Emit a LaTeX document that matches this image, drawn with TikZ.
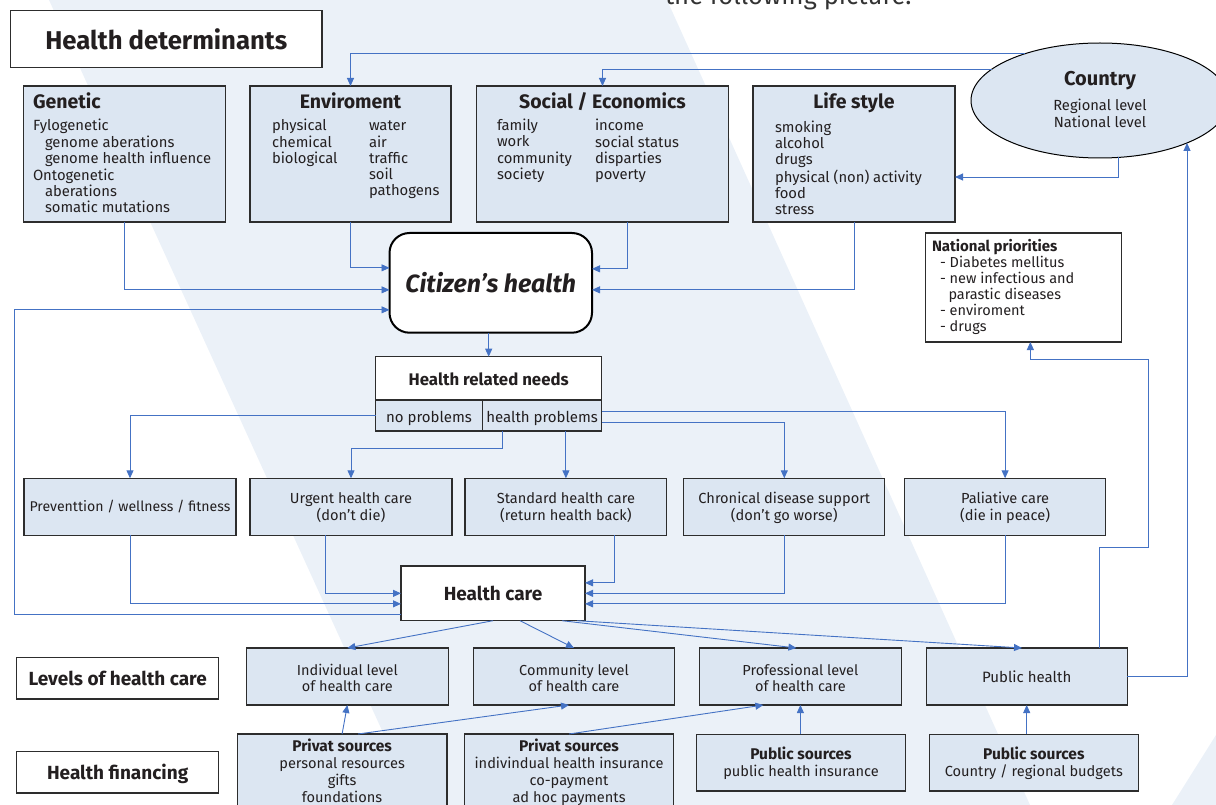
\documentclass[tikz,border=0pt]{standalone}
\usepackage{fontspec}
\setmainfont{Fira Sans}
\usetikzlibrary{arrows.meta,shapes.geometric,calc}
\definecolor{boxblue}{RGB}{220,230,242}
\definecolor{lineblue}{RGB}{68,114,196}
\definecolor{bordergray}{RGB}{45,45,45}
\definecolor{bgblue}{RGB}{235,241,248}
\definecolor{txt}{RGB}{35,31,32}
\newcommand{\llines}[1]{\begin{tabular}[t]{@{}l@{}}#1\end{tabular}}
\newcommand{\clines}[1]{\begin{tabular}[t]{@{}c@{}}#1\end{tabular}}
\newcommand{\myfs}[2]{\fontsize{#1}{#2}\selectfont}
\newcommand{\bsrc}[1]{{\bfseries\myfs{15.5}{17}#1}}
\begin{document}
\begin{tikzpicture}[x=1pt,y=-1pt,
  bluebox/.style={draw=bordergray,line width=1.1pt,fill=boxblue,inner sep=0pt,outer sep=0pt},
  whitebox/.style={draw=bordergray,line width=1.1pt,fill=white,inner sep=0pt,outer sep=0pt},
  lbl/.style={inner sep=0pt,outer sep=0pt,text=txt},
  body/.style={lbl,font=\myfs{14.8}{16}},
  title/.style={lbl,font=\bfseries\myfs{19.5}{20}},
  two/.style={lbl,font=\myfs{14.6}{17}},
  lvtxt/.style={lbl,font=\myfs{14.5}{16.7}},
  side/.style={lbl,font=\bfseries\myfs{19}{20}},
  arr/.style={draw=lineblue,line width=0.9pt,-{Triangle[length=8pt,width=7pt]}},
]
\useasboundingbox (0,0) rectangle (1216,805);
% background band
\fill[bgblue] (49,0) -- (667,0) -- (1030,805) -- (416,805) -- cycle;
\fill[bgblue] (1172,805) -- (1216,735) -- (1216,805) -- cycle;
\node[lbl,anchor=base west,font=\myfs{25.6}{28},text=black!80] (toptext) at (665,5) {the following picture.};

% header
\node[whitebox,minimum width=311.3,minimum height=57.3] (hd) at (166.3,39.3) {};
\node[lbl,anchor=base,font=\bfseries\myfs{25.7}{28}] (hdt) at (166.3,50) {Health determinants};

% determinants
\node[bluebox,minimum width=201.7,minimum height=136] (gen) at (124.2,154) {};
\node[title,anchor=base west] (gent) at (33,109) {Genetic};
\node[body,anchor=base west] (genb) at (33,131) {\llines{Fylogenetic\\\hspace*{12pt}genome aberations\\\hspace*{12pt}genome health influence\\Ontogenetic\\\hspace*{12pt}aberations\\\hspace*{12pt}somatic mutations}};

\node[bluebox,minimum width=201,minimum height=136] (env) at (350.5,154) {};
\node[title,anchor=base] (envt) at (350.5,109) {Enviroment};
\node[body,anchor=base west] (envl) at (272,131) {\llines{physical\\chemical\\biological}};
\node[body,anchor=base west] (envr) at (369,131) {\llines{water\\air\\traffic\\soil\\pathogens}};

\node[bluebox,minimum width=251.6,minimum height=136] (soc) at (602.5,154) {};
\node[title,anchor=base] (soct) at (602.5,109) {Social / Economics};
\node[body,anchor=base west] (socl) at (497,131) {\llines{family\\work\\community\\society}};
\node[body,anchor=base west] (socr) at (595,131) {\llines{income\\social status\\disparties\\poverty}};

\node[bluebox,minimum width=202,minimum height=136] (life) at (854,154) {};
\node[title,anchor=base] (lifet) at (854,109) {Life style};
\node[body,anchor=base west] (lifeb) at (775,133) {\llines{smoking\\alcohol\\drugs\\physical (non) activity\\food\\stress}};

\node[ellipse,draw=black,line width=1pt,fill=boxblue,minimum width=258,minimum height=115,inner sep=0pt,outer sep=0pt] (country) at (1100,100.5) {};
\node[lbl,anchor=base,font=\bfseries\myfs{20}{22}] (countryt) at (1100,86) {Country};
\node[lbl,anchor=base,font=\myfs{14.7}{16.5}] (countryb) at (1100,111) {\clines{Regional level\\National level}};

% citizen's health
\node[draw=black,line width=2pt,rounded corners=20pt,fill=white,minimum width=202.5,minimum height=99.7,inner sep=0pt,outer sep=0pt] (cit) at (490.75,282.85) {};
\node[lbl,anchor=base,font=\bfseries\itshape\myfs{24.9}{27}] (citt) at (490.75,292) {Citizen’s health};

% national priorities
\node[whitebox,minimum width=196.1,minimum height=109] (natp) at (1023.35,287.5) {};
\node[lbl,anchor=base west,font=\bfseries\myfs{15}{16}] (natpt) at (932,251.5) {National priorities};
\node[lbl,anchor=base west,font=\myfs{14.5}{16.1}] (natpb) at (940,267.3) {\llines{- Diabetes mellitus\\- new infectious and\\\hspace*{8.5pt}parastic diseases\\- enviroment\\- drugs}};

% health related needs
\node[whitebox,minimum width=226.2,minimum height=43.3] (hrn) at (488.7,378.35) {};
\node[lbl,anchor=base,font=\bfseries\myfs{16.8}{18}] (hrnt) at (488.7,385) {Health related needs};
\node[bluebox,minimum width=106.8,minimum height=31] (npc) at (429,415.5) {};
\node[bluebox,minimum width=119.4,minimum height=31] (hpc) at (542.1,415.5) {};
\node[lbl,anchor=base,font=\myfs{15}{16}] (npct) at (429,422.7) {no problems};
\node[lbl,anchor=base,font=\myfs{15}{16}] (hpct) at (542.1,422.7) {health problems};

% care row
\node[bluebox,minimum width=212,minimum height=57] (prev) at (130,506.8) {};
\node[lbl,anchor=base,font=\myfs{14.1}{16}] (prevt) at (130,511.7) {Preventtion / wellness / fitness};
\node[bluebox,minimum width=202,minimum height=57] (urg) at (351,506.8) {};
\node[two,anchor=base] (urgt) at (351,503) {\clines{Urgent health care\\(don’t die)}};
\node[bluebox,minimum width=201.8,minimum height=57] (std) at (565.9,506.8) {};
\node[two,anchor=base] (stdt) at (565.9,503) {\clines{Standard health care\\(return health back)}};
\node[bluebox,minimum width=201.2,minimum height=57] (chr) at (784.3,506.8) {};
\node[two,anchor=base] (chrt) at (784.3,503) {\clines{Chronical disease support\\(don’t go worse)}};
\node[bluebox,minimum width=201.2,minimum height=57] (pal) at (1005.1,506.8) {};
\node[two,anchor=base] (palt) at (1005.1,503) {\clines{Paliative care\\(die in peace)}};

% health care
\node[whitebox,minimum width=184,minimum height=54.7] (hc) at (493,593.35) {};
\node[side,anchor=base] (hct) at (493,600) {Health care};

% side labels
\node[whitebox,minimum width=202.1,minimum height=41.3] (lvl) at (117.65,678.35) {};
\node[side,anchor=base] (lvlt) at (117.65,685) {Levels of health care};
\node[whitebox,minimum width=202.1,minimum height=41.3] (fin) at (117.65,772.35) {};
\node[side,anchor=base] (fint) at (117.65,779) {Health financing};

% levels
\node[bluebox,minimum width=202.1,minimum height=57] (ind) at (347.35,676.5) {};
\node[lvtxt,anchor=base] (indt) at (347.35,675) {\clines{Individual level\\of health care}};
\node[bluebox,minimum width=201.4,minimum height=57] (comm) at (574,676.5) {};
\node[lvtxt,anchor=base] (commt) at (574,675) {\clines{Community level\\of health care}};
\node[bluebox,minimum width=202,minimum height=57] (prof) at (800.4,676.5) {};
\node[lvtxt,anchor=base] (proft) at (800.4,675) {\clines{Professional level\\of health care}};
\node[bluebox,minimum width=201.2,minimum height=57] (ph) at (1026.7,676.5) {};
\node[lbl,anchor=base,font=\myfs{15}{16}] (pht) at (1026.7,682) {Public health};

% financing
\node[bluebox,minimum width=209.8,minimum height=81] (p1) at (342.1,774.5) {};
\node[two,anchor=base] (p1t) at (342.1,751.7) {\clines{\bsrc{Privat sources}\\personal resources\\gifts\\foundations}};
\node[bluebox,minimum width=208.9,minimum height=81] (p2) at (569.05,774.5) {};
\node[two,anchor=base] (p2t) at (569.05,751.7) {\clines{\bsrc{Privat sources}\\indivindual health insurance\\co-payment\\ad hoc payments}};
\node[bluebox,minimum width=209.4,minimum height=56.7] (pub1) at (801,762.65) {};
\node[two,anchor=base] (pub1t) at (801,759.5) {\clines{\bsrc{Public sources}\\public health insurance}};
\node[bluebox,minimum width=209,minimum height=56.7] (pub2) at (1033.8,762.65) {};
\node[two,anchor=base] (pub2t) at (1033.8,759.5) {\clines{\bsrc{Public sources}\\Country / regional budgets}};

% connectors
\draw[arr] (country.148.5) -| (env.north);
\draw[arr] (country.164.5) -| (soc.north);
\draw[arr] (country.288.5) |- ([yshift=-23pt]life.east);
\draw[arr] (gen.south) |- ([yshift=-7pt]cit.west);
\draw[arr] (env.south) |- ([yshift=15pt]cit.west);
\draw[arr] ([xshift=24.5pt]soc.south) |- ([yshift=14pt]cit.east);
\draw[arr] (life.south) |- ([yshift=-7pt]cit.east);
\draw[arr] (cit.south -| hrn.north) -- (hrn.north);

\draw[arr] (npc.west) -| (prev.north);
\draw[arr] ([xshift=-40pt]hpc.south) -- ++(0,17) -| (urg.north);
\draw[arr] (hpc.south -| std.north) -- (std.north);
\draw[arr] ([yshift=-6.5pt]hpc.east) -| (chr.north);
\draw[arr] ([yshift=4.5pt]hpc.east) -| (pal.north);

\draw[arr] (prev.south) |- ([yshift=-10.5pt]hc.west);
\draw[arr] ([xshift=-26pt]urg.south) |- (hc.west);
\draw[arr] ([xshift=49pt]std.south) |- ([yshift=10.5pt]hc.east);
\draw[arr] (chr.south) |- (hc.east);
\draw[arr] (pal.south) |- ([yshift=-10.5pt]hc.east);

\coordinate (hcfb) at ([yshift=-21pt]hc.west);
\coordinate (citfb) at ([yshift=-27pt]cit.west);
\coordinate (loopx) at (14,0);
\draw[arr] (hcfb) -- (hcfb -| loopx) |- (citfb);

\draw[arr] (hc.south) -- (ind.north);
\draw[arr] ([xshift=27pt]hc.south) -- (comm.north);
\draw[arr] ([xshift=69pt]hc.south) -- ([xshift=-4pt]prof.north);
\draw[arr] ([xshift=84pt]hc.south) -- ([xshift=-4.7pt]ph.north);
\draw[arr] (p1.north) -- (ind.south);
\draw[arr] ([xshift=16pt]p1.north) -- ([xshift=-5pt]comm.south);
\draw[arr] (p2.north) -- ([xshift=-37pt]prof.south);
\draw[arr] (prof.south |- pub1.north) -- (prof.south);
\draw[arr] (ph.south |- pub2.north) -- (ph.south);
\draw[arr] (ph.east) -| (country.334.5);
\coordinate (phn) at ([xshift=72.3pt]ph.north);
\coordinate (natpin) at ([xshift=7pt]natp.south);
\coordinate (bend) at (1148,547);
\draw[arr] (phn) |- (bend) |- ([yshift=-17pt]natpin) -- (natpin);
\end{tikzpicture}
\end{document}
